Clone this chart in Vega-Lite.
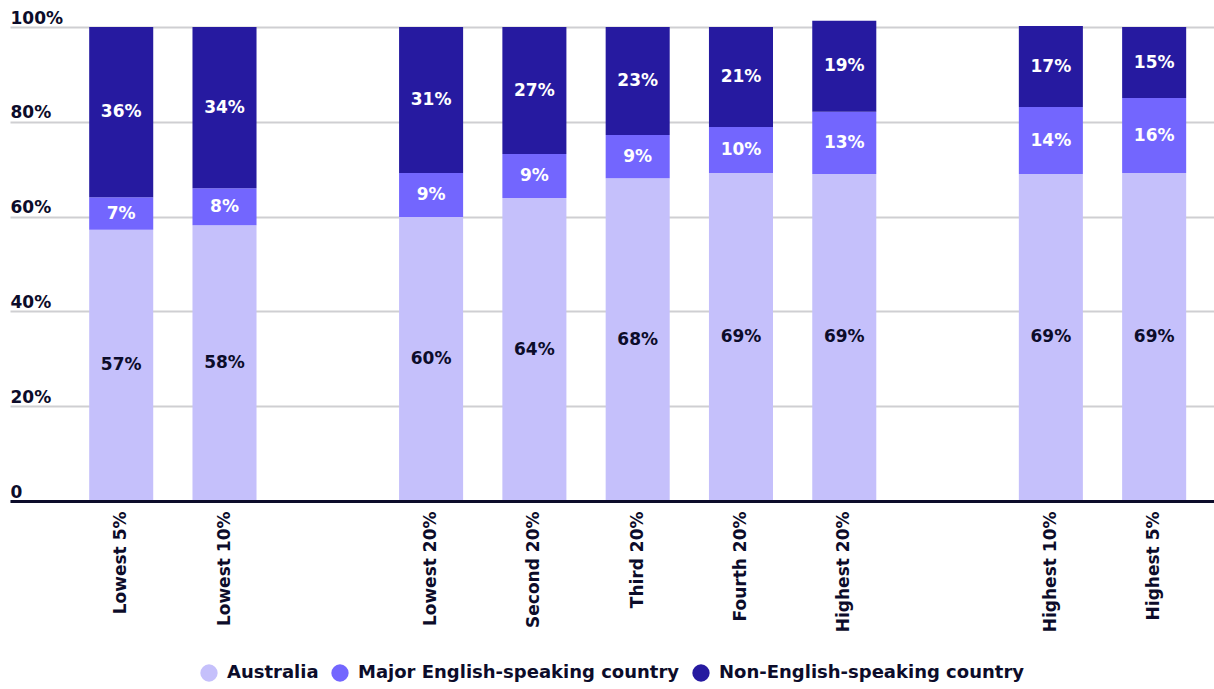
{
  "$schema": "https://vega.github.io/schema/vega-lite/v6.json",
  "width": 1204,
  "height": 474,
  "autosize": {"type": "none"},
  "padding": {"left": 10, "top": 27, "right": 0, "bottom": 188},
  "background": "white",
  "config": {
    "view": {"stroke": null},
    "font": "DejaVu Sans",
    "axis": {"labelFont": "DejaVu Sans", "labelFontWeight": "bold", "labelFontSize": 17, "labelColor": "#0c0c2a"},
    "legend": {"labelFont": "DejaVu Sans", "labelFontWeight": "bold", "labelFontSize": 18, "labelColor": "#0c0c2a"}
  },
  "data": {
    "values": [
      {"group": "Lowest 5%", "series": "Australia", "value": 0.572},
      {"group": "Lowest 5%", "series": "Major English-speaking country", "value": 0.069},
      {"group": "Lowest 5%", "series": "Non-English-speaking country", "value": 0.359},
      {"group": "Lowest 10%", "series": "Australia", "value": 0.582},
      {"group": "Lowest 10%", "series": "Major English-speaking country", "value": 0.078},
      {"group": "Lowest 10%", "series": "Non-English-speaking country", "value": 0.340},
      {"group": "Lowest 20%", "series": "Australia", "value": 0.599},
      {"group": "Lowest 20%", "series": "Major English-speaking country", "value": 0.093},
      {"group": "Lowest 20%", "series": "Non-English-speaking country", "value": 0.308},
      {"group": "Second 20%", "series": "Australia", "value": 0.639},
      {"group": "Second 20%", "series": "Major English-speaking country", "value": 0.093},
      {"group": "Second 20%", "series": "Non-English-speaking country", "value": 0.268},
      {"group": "Third 20%", "series": "Australia", "value": 0.681},
      {"group": "Third 20%", "series": "Major English-speaking country", "value": 0.091},
      {"group": "Third 20%", "series": "Non-English-speaking country", "value": 0.228},
      {"group": "Fourth 20%", "series": "Australia", "value": 0.692},
      {"group": "Fourth 20%", "series": "Major English-speaking country", "value": 0.097},
      {"group": "Fourth 20%", "series": "Non-English-speaking country", "value": 0.211},
      {"group": "Highest 20%", "series": "Australia", "value": 0.690},
      {"group": "Highest 20%", "series": "Major English-speaking country", "value": 0.131},
      {"group": "Highest 20%", "series": "Non-English-speaking country", "value": 0.192},
      {"group": "Highest 10%", "series": "Australia", "value": 0.690},
      {"group": "Highest 10%", "series": "Major English-speaking country", "value": 0.141},
      {"group": "Highest 10%", "series": "Non-English-speaking country", "value": 0.171},
      {"group": "Highest 5%", "series": "Australia", "value": 0.692},
      {"group": "Highest 5%", "series": "Major English-speaking country", "value": 0.158},
      {"group": "Highest 5%", "series": "Non-English-speaking country", "value": 0.150}
    ]
  },
  "encoding": {
    "x": {
      "field": "group",
      "type": "nominal",
      "sort": null,
      "scale": {
        "domain": ["Lowest 5%", "Lowest 10%", " ", "Lowest 20%", "Second 20%", "Third 20%", "Fourth 20%", "Highest 20%", "  ", "Highest 10%", "Highest 5%"],
        "paddingInner": 0.38,
        "paddingOuter": 0.518,
        "align": 0.74
      },
      "axis": {
        "title": null,
        "labelAngle": -90,
        "labelPadding": 10,
        "ticks": false,
        "domainColor": "#0c0c2a",
        "domainWidth": 3,
        "zindex": 2
      }
    }
  },
  "layer": [
    {
      "mark": {"type": "bar"},
      "encoding": {
        "y": {
          "field": "value",
          "type": "quantitative",
          "stack": "zero",
          "scale": {"domain": [0, 1], "nice": false},
          "axis": {
            "title": null,
            "values": [0, 0.2, 0.4, 0.6, 0.8, 1],
            "labelExpr": "datum.value == 0 ? '0' : format(datum.value, '.0%')",
            "labelAlign": "left",
            "labelBaseline": "alphabetic",
            "labelOffset": -4,
            "labelPadding": 0,
            "ticks": false,
            "tickSize": 0,
            "domain": false,
            "grid": true,
            "gridColor": "#cfcfd2",
            "gridWidth": 2
          }
        },
        "order": {"field": "series", "sort": "ascending"},
        "color": {
          "field": "series",
          "type": "nominal",
          "scale": {
            "domain": ["Australia", "Major English-speaking country", "Non-English-speaking country"],
            "range": ["#c5c0fb", "#7366fe", "#261aa0"]
          },
          "legend": {
            "title": null,
            "orient": "none",
            "legendX": 190,
            "legendY": 637,
            "direction": "horizontal",
            "symbolType": "circle",
            "symbolSize": 300,
            "symbolStrokeWidth": 0,
            "columnPadding": 12,
            "labelOffset": 9,
            "labelLimit": 0
          }
        }
      }
    },
    {
      "mark": {"type": "text", "fontSize": 17, "fontWeight": "bold", "font": "DejaVu Sans"},
      "encoding": {
        "y": {"field": "value", "type": "quantitative", "stack": "zero", "bandPosition": 0.5},
        "detail": {"field": "series"},
        "order": {"field": "series", "sort": "ascending"},
        "text": {"field": "value", "type": "quantitative", "format": ".0%"},
        "color": {
          "condition": {"test": "datum.series == 'Australia'", "value": "#0c0c2a"},
          "value": "#ffffff"
        }
      }
    }
  ]
}
